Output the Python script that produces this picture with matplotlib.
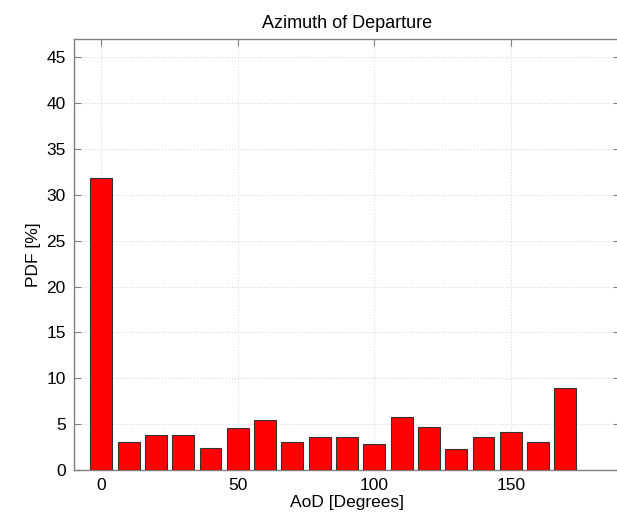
import numpy as np
import matplotlib
matplotlib.use('Agg')
import matplotlib.pyplot as plt

plt.rcParams['font.family'] = ['Liberation Sans', 'DejaVu Sans']

# Распределение азимута отправления по бинам шириной 10 градусов
aod_bins = [0, 10, 20, 30, 40, 50, 60, 70, 80, 90,
            100, 110, 120, 130, 140, 150, 160, 170]
pdf_percent = [31.8, 3.0, 3.8, 3.8, 2.4, 4.55, 5.5, 3.0, 3.6, 3.6,
               2.85, 5.75, 4.7, 2.3, 3.6, 4.1, 3.1, 8.9]

W, H = 617, 516
fig = plt.figure(figsize=(W / 100, H / 100), dpi=100)
# оси чуть шире картинки справа, правая рамка уходит за край
ax = fig.add_axes([74 / W, (H - 470) / H, (620 - 74) / W, (470 - 39) / H])

ax.bar(aod_bins, pdf_percent, width=8, color='#ff0000',
       edgecolor='#333333', linewidth=0.8, zorder=3)

ax.set_xlim(-10, 190)
ax.set_ylim(0, 47)
ax.set_xticks([0, 50, 100, 150])
ax.set_yticks(np.arange(0, 46, 5))

ax.grid(True, linestyle=(0, (1, 2)), color='#d4d4d4', linewidth=0.7, zorder=0)
for s in ax.spines.values():
    s.set_color('#7f7f7f')
    s.set_linewidth(1.0)
ax.tick_params(direction='in', top=True, right=True, length=5,
               color='#7f7f7f', labelsize=12.5, labelcolor='black', pad=6)

ax.set_title('Azimuth of Departure', fontsize=13, pad=8)
ax.set_xlabel('AoD [Degrees]', fontsize=12.5, labelpad=1)
ax.set_ylabel('PDF [%]', fontsize=12.5, labelpad=4)

fig.savefig('out.png', dpi=100)
